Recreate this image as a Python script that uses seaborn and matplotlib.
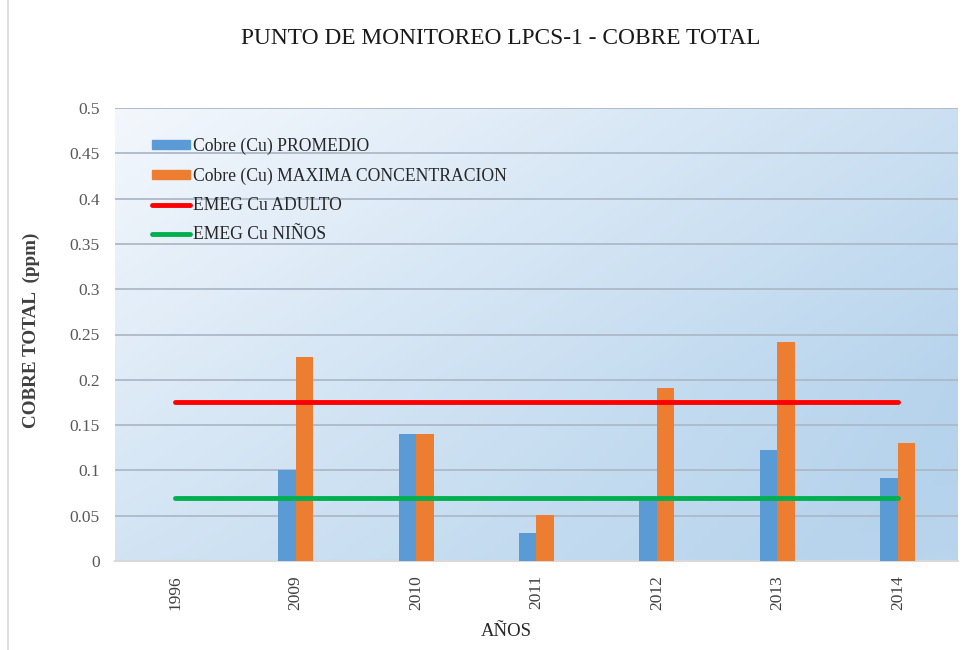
import numpy as np
import pandas as pd
import matplotlib.pyplot as plt
import seaborn as sns
from matplotlib.patches import Patch, Rectangle
from matplotlib.lines import Line2D

# Datos
anios = ['1996', '2009', '2010', '2011', '2012', '2013', '2014']
cu_promedio = [0.0, 0.100, 0.140, 0.031, 0.066, 0.123, 0.092]
cu_maxima = [0.0, 0.225, 0.140, 0.051, 0.191, 0.242, 0.130]
emeg_adulto = [0.175] * len(anios)
emeg_ninos = [0.07] * len(anios)

lbl_prom = 'Cobre (Cu) PROMEDIO'
lbl_max = 'Cobre (Cu) MAXIMA CONCENTRACION'
lbl_adulto = 'EMEG Cu ADULTO'
lbl_ninos = 'EMEG Cu NIÑOS'

c_prom = '#5b9bd5'
c_max = '#ed7d31'
c_adulto = '#ff0000'
c_ninos = '#00b050'

df = pd.DataFrame({
    'anio': anios * 2,
    'valor': cu_promedio + cu_maxima,
    'serie': [lbl_prom] * len(anios) + [lbl_max] * len(anios),
})

sns.set_theme(style='white')
plt.rcParams['font.family'] = ['Liberation Serif', 'DejaVu Serif']

fig = plt.figure(figsize=(9.78, 6.5), dpi=100)
ax = fig.add_axes([115 / 978, 1 - 561 / 650, 843 / 978, 453 / 650])

# fondo degradado del area de trazado (fila 0 = arriba)
gx, gy = np.meshgrid(np.linspace(0, 1, 200), np.linspace(0, 1, 200))
t = np.clip(0.6 * gx + 0.5 * gy, 0, 1)
t = t - 0.35 * np.clip(gy - 0.6, 0, 1) * gx
top = np.array([0.955, 0.97, 0.99])
dark = np.array([0.69, 0.815, 0.92])
img = top[None, None, :] * (1 - t[..., None]) + dark[None, None, :] * t[..., None]
ax.imshow(img, extent=[-0.5, 6.5, 0, 0.5], origin='upper', aspect='auto', zorder=0)

sns.barplot(data=df, x='anio', y='valor', hue='serie', order=anios,
            palette=[c_prom, c_max], width=0.29, ax=ax, legend=False,
            saturation=1, linewidth=0, zorder=3)

xs = np.arange(len(anios))
ax.plot(xs, emeg_adulto, color=c_adulto, lw=3.5, zorder=4, solid_capstyle='round')
ax.plot(xs, emeg_ninos, color=c_ninos, lw=3.5, zorder=4, solid_capstyle='round')

ax.set_xlim(-0.5, 6.5)
ax.set_ylim(0, 0.5)
ax.set_yticks(np.arange(0, 0.501, 0.05))
ax.set_yticklabels(['0'] + [f'{v:g}' for v in np.arange(0.05, 0.501, 0.05)])
ax.yaxis.grid(True, color='#adb9c8', lw=1.3, zorder=1)
ax.set_axisbelow(True)
for s in ['top', 'right', 'left']:
    ax.spines[s].set_visible(False)
ax.spines['bottom'].set_color('#d9d9d9')
ax.spines['bottom'].set_linewidth(1.5)
ax.tick_params(axis='y', length=0, labelsize=12.5, colors='#595959', pad=11)
ax.tick_params(axis='x', length=0, labelsize=12.5, colors='#404040', pad=10)
plt.setp(ax.get_xticklabels(), rotation=90)

ax.set_xlabel('')
ax.set_ylabel('')
fig.text(31 / 978, 1 - 330 / 650, 'COBRE TOTAL  (ppm)', rotation=90, ha='center',
         va='center', fontsize=13.8, fontweight='bold', color='#404040')
fig.text(506 / 978, 1 - 631 / 650, 'AÑOS', ha='center', va='center',
         fontsize=13.5, color='#262626')
fig.text(501 / 978, 1 - 38 / 650, 'PUNTO DE MONITOREO LPCS-1 - COBRE TOTAL',
         ha='center', va='center', fontsize=16.8, color='#1a1a1a')

handles = [Patch(color=c_prom), Patch(color=c_max),
           Line2D([], [], color=c_adulto, lw=3.5),
           Line2D([], [], color=c_ninos, lw=3.5)]
ax.legend(handles, [lbl_prom, lbl_max, lbl_adulto, lbl_ninos],
          loc='upper left', bbox_to_anchor=(0.036, 0.95), frameon=False,
          fontsize=12.7, handlelength=2.15, handleheight=0.45, handletextpad=0.15,
          labelspacing=0.7, borderaxespad=0)

# marco del grafico
fig.patches.append(Rectangle((8 / 978, -0.01), 1.0, 1.02, transform=fig.transFigure,
                             fill=False, edgecolor='#d9d9d9', lw=1.2))

fig.savefig('out.png', dpi=100)
